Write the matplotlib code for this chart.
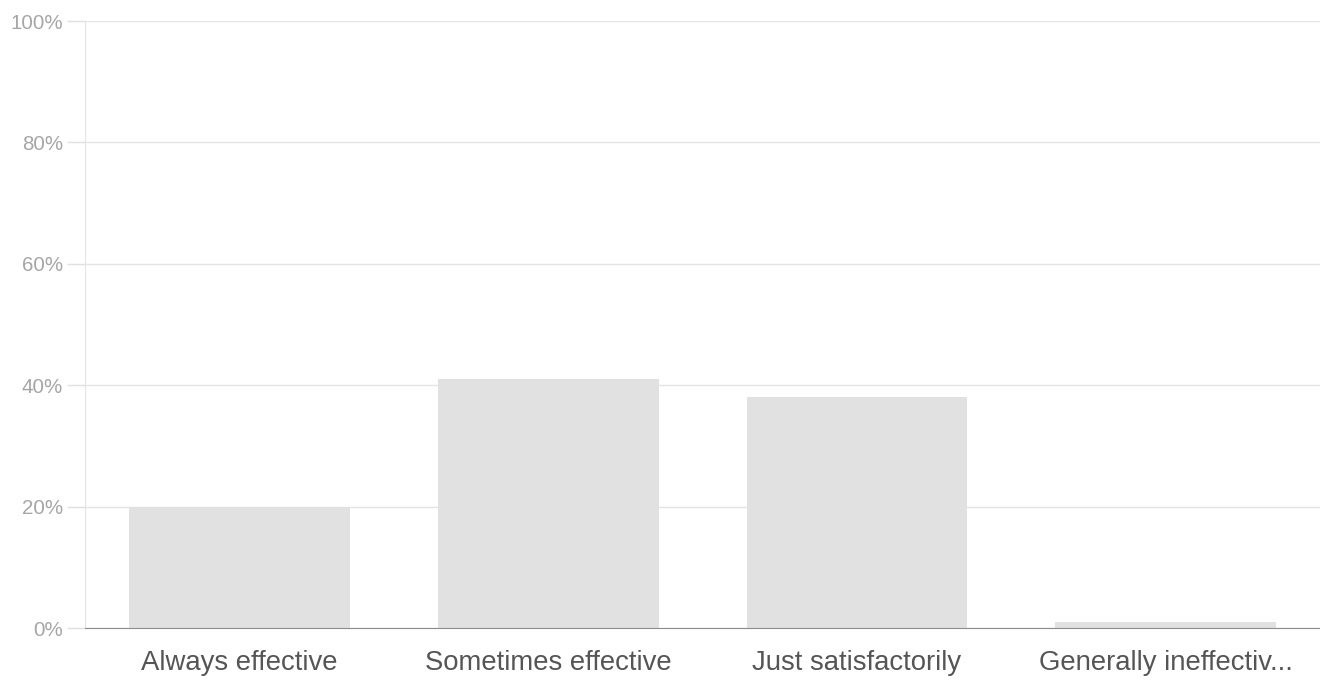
import matplotlib.pyplot as plt
import numpy as np

# данные опроса
categories = ['Always effective', 'Sometimes effective', 'Just satisfactorily', 'Generally ineffectiv...']
percents = [20, 41, 38, 1]
y_ticks = [0, 20, 40, 60, 80, 100]
y_labels = ['0%', '20%', '40%', '60%', '80%', '100%']

plt.rcParams['font.family'] = ['Liberation Sans', 'DejaVu Sans']

fig = plt.figure(figsize=(13.2, 6.81), dpi=100)
ax = fig.add_axes([0.0644, 0.0778, 0.9356, 0.8912])

x = np.arange(len(categories))
ax.bar(x, percents, width=0.715, color='#e1e1e1', zorder=2)

ax.set_xlim(-0.5, len(categories) - 0.5)
ax.set_ylim(0, 100)

ax.set_yticks(y_ticks)
ax.set_yticklabels(y_labels)
ax.set_xticks(x)
ax.set_xticklabels(categories)

# сетка и оси
ax.grid(axis='y', color='#e4e4e4', linewidth=1, zorder=0)
ax.spines['top'].set_visible(False)
ax.spines['right'].set_visible(False)
ax.spines['left'].set_color('#e4e4e4')
ax.spines['bottom'].set_color('#8c8c8c')
ax.spines['bottom'].set_zorder(3)

ax.tick_params(axis='y', colors='#e0e0e0', labelcolor='#a6a6a6', labelsize=14.8, length=13, width=1, pad=3)
ax.tick_params(axis='x', length=0, labelcolor='#555555', labelsize=19.8, pad=16)

plt.savefig('out.png', dpi=100)
